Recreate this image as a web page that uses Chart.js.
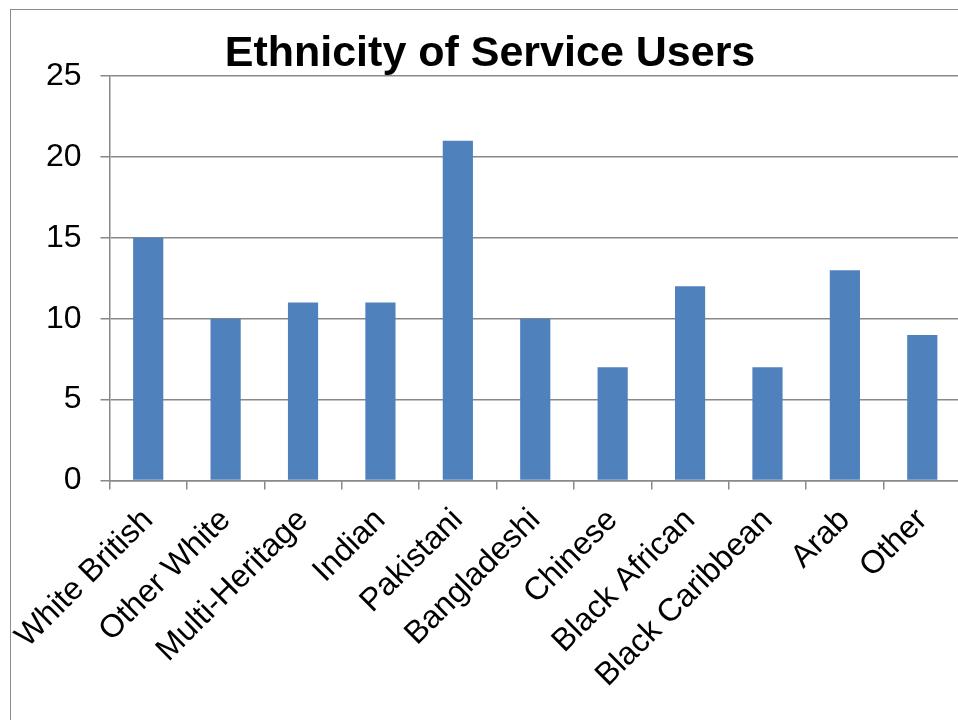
<!DOCTYPE html>
<html>
<head>
<meta charset="utf-8">
<title>Ethnicity of Service Users</title>
<script src="https://cdn.jsdelivr.net/npm/chart.js@4.4.0/dist/chart.umd.min.js"></script>
<style>
    html, body { margin: 0; padding: 0; background: #fff; overflow: hidden; }
    #idFrame {
        position: absolute;
        left: 10px;
        top: 9px;
        width: 1000px;
        height: 760px;
        border: 1px solid #8c8c8c;
    }
    #idChartEthnicity { position: absolute; left: 0; top: 0; }
</style>
</head>
<body>
<div id="idFrame">
    <canvas id="idChartEthnicity" width="958" height="712"></canvas>
</div>
<script>
var aCategories = ['White British', 'Other White', 'Multi-Heritage', 'Indian', 'Pakistani',
    'Bangladeshi', 'Chinese', 'Black African', 'Black Caribbean', 'Arab', 'Other'];
var aUsers = [15, 10, 11, 11, 21, 10, 7, 12, 7, 13, 9];
var aYTicks = [0, 5, 10, 15, 20, 25];

document.addEventListener('DOMContentLoaded', function () {
    initChartEthnicity();
});

function initChartEthnicity() {

    var sGrid = '#888888';
    var sFont = "'Liberation Sans', Arial, sans-serif";

    const data = {
        labels: aCategories,
        datasets: [{
            label: 'Service Users',
            backgroundColor: '#4F81BD',
            borderWidth: 0,
            barPercentage: 0.39,
            categoryPercentage: 1,
            data: aUsers
        }]
    };

    const config = {
        type: 'bar',
        data: data,
        options: {
            responsive: false,
            animation: false,
            layout: {
                padding: { left: 8, right: 8, top: 0, bottom: 0 }
            },
            plugins: {
                legend: { display: false },
                tooltip: { enabled: false },
                title: {
                    display: true,
                    text: 'Ethnicity of Service Users',
                    color: '#000',
                    font: { family: sFont, size: 43, weight: 'bold', lineHeight: 1 },
                    padding: { top: 23, bottom: 0 }
                }
            },
            scales: {
                x: {
                    afterFit: function (oScale) {
                        // labels hang left of the axis, keep plot where it is
                        oScale.paddingLeft = 0;
                        oScale.paddingRight = 0;
                        oScale.height = 241.5;
                    },
                    grid: {
                        display: true,
                        drawOnChartArea: false,
                        offset: true,
                        color: sGrid,
                        lineWidth: 1.5,
                        tickLength: 9
                    },
                    border: { color: sGrid, width: 1.5 },
                    ticks: {
                        color: '#000',
                        font: { family: sFont, size: 32 },
                        minRotation: 45,
                        maxRotation: 45,
                        autoSkip: false,
                        padding: 12
                    }
                },
                y: {
                    min: 0,
                    max: 25,
                    afterBuildTicks: function (oScale) {
                        oScale.ticks = aYTicks.map(function (v) { return { value: v }; });
                    },
                    afterFit: function (oScale) {
                        oScale.width = 90.5;
                        oScale.paddingTop = 0;
                    },
                    grid: {
                        color: sGrid,
                        lineWidth: 1.5,
                        tickLength: 9
                    },
                    border: { color: sGrid, width: 1.5 },
                    ticks: {
                        color: '#000',
                        font: { family: sFont, size: 32 },
                        padding: 19
                    }
                }
            }
        }
    };

    const oChartEthnicity = new Chart(
        document.getElementById('idChartEthnicity'),
        config
    );
}
</script>
</body>
</html>
